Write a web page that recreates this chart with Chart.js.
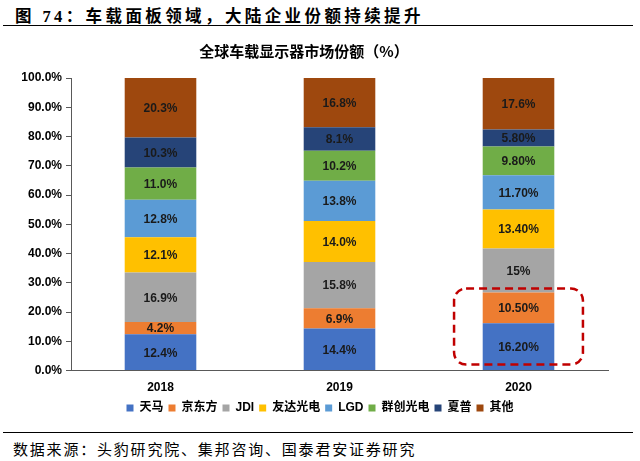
<!DOCTYPE html>
<html>
<head>
<meta charset="utf-8">
<script src="https://cdn.jsdelivr.net/npm/chart.js@4"></script>
<style>
  body { margin: 0; background: #fff; }
  #wrap { position: relative; width: 640px; height: 461px; overflow: hidden; }
  #head { position: absolute; left: 15px; top: 3px; font: bold 16.5px "Liberation Serif", "Noto Sans CJK SC", serif; letter-spacing: 3.4px; color: #000; white-space: nowrap; }
  .rule { position: absolute; left: 3px; width: 630px; height: 0; border-top: 1.5px solid #000; }
  #src { position: absolute; left: 13px; top: 438px; font: 15px "Noto Sans CJK SC", sans-serif; letter-spacing: 1.8px; color: #000; white-space: nowrap; }
  #chart { position: absolute; left: 0; top: 30px; }
</style>
</head>
<body>
<div id="wrap">
  <div id="head">图 74：车载面板领域，大陆企业份额持续提升</div>
  <div class="rule" style="top:25px"></div>
  <canvas id="chart" width="640" height="400"></canvas>
  <div class="rule" style="top:432px"></div>
  <div id="src">数据来源：头豹研究院、集邦咨询、国泰君安证券研究</div>
</div>
<script>
const years = ['2018', '2019', '2020'];
const seriesNames = ['天马', '京东方', 'JDI', '友达光电', 'LGD', '群创光电', '夏普', '其他'];

// share values, %
const tianma = [12.4, 14.4, 16.2];
const boe = [4.2, 6.9, 10.5];
const jdi = [16.9, 15.8, 15];
const auo = [12.1, 14.0, 13.4];
const lgd = [12.8, 13.8, 11.7];
const innolux = [11.0, 10.2, 9.8];
const sharp = [10.3, 8.1, 5.8];
const others = [20.3, 16.8, 17.6];

// labels as printed on the bars
const tianmaLabels = ['12.4%', '14.4%', '16.20%'];
const boeLabels = ['4.2%', '6.9%', '10.50%'];
const jdiLabels = ['16.9%', '15.8%', '15%'];
const auoLabels = ['12.1%', '14.0%', '13.40%'];
const lgdLabels = ['12.8%', '13.8%', '11.70%'];
const innoluxLabels = ['11.0%', '10.2%', '9.80%'];
const sharpLabels = ['10.3%', '8.1%', '5.80%'];
const othersLabels = ['20.3%', '16.8%', '17.6%'];

const yTicks = [0, 10, 20, 30, 40, 50, 60, 70, 80, 90, 100];

const colors = ['#4472C4', '#ED7D31', '#A5A5A5', '#FFC000', '#5B9BD5', '#70AD47', '#264478', '#9E480E'];
const values = [tianma, boe, jdi, auo, lgd, innolux, sharp, others];
const labels = [tianmaLabels, boeLabels, jdiLabels, auoLabels, lgdLabels, innoluxLabels, sharpLabels, othersLabels];

// labels in the middle of each segment
const barLabels = {
  id: 'barLabels',
  afterDatasetsDraw(chart) {
    const ctx = chart.ctx;
    ctx.save();
    ctx.font = 'bold 12px "Liberation Sans", Arial, sans-serif';
    ctx.fillStyle = '#1a1a1a';
    ctx.textAlign = 'center';
    ctx.textBaseline = 'middle';
    chart.data.datasets.forEach((ds, i) => {
      chart.getDatasetMeta(i).data.forEach((bar, j) => {
        ctx.fillText(ds.valueLabels[j], bar.x, (bar.y + bar.base) / 2 + 1);
      });
    });
    ctx.restore();
  }
};

// red dashed frame round 天马 + 京东方 in 2020
const highlight = {
  id: 'highlight',
  afterDraw(chart) {
    const x = chart.scales.x;
    const y = chart.scales.y;
    const idx = 2;
    const cx = x.getPixelForValue(idx);
    const half = (x.width / years.length) * 0.36;
    const top = y.getPixelForValue(tianma[idx] + boe[idx]) - 4;
    const bottom = y.getPixelForValue(0) - 6;
    const ctx = chart.ctx;
    ctx.save();
    ctx.strokeStyle = '#C00000';
    ctx.lineWidth = 2.5;
    ctx.setLineDash([8, 5]);
    ctx.beginPath();
    ctx.roundRect(cx - half, top, half * 2, bottom - top, 12);
    ctx.stroke();
    ctx.restore();
  }
};

// centre the legend on the whole page, not on the padded box
const legendCentre = {
  id: 'legendCentre',
  afterLayout(chart) {
    chart.legend.left += 32;
  }
};

new Chart(document.getElementById('chart'), {
  type: 'bar',
  data: {
    labels: years,
    datasets: seriesNames.map((name, i) => ({
      label: name,
      data: values[i],
      valueLabels: labels[i],
      backgroundColor: colors[i],
      borderWidth: 0,
      categoryPercentage: 1,
      barPercentage: 0.4
    }))
  },
  options: {
    responsive: false,
    animation: false,
    layout: { padding: { left: 0, right: 32, top: 0, bottom: 6 } },
    plugins: {
      title: {
        display: true,
        text: '全球车载显示器市场份额（%）',
        color: '#000',
        font: { family: '"Noto Sans CJK SC", sans-serif', size: 15, weight: 'bold' },
        padding: { top: 12, bottom: 18 }
      },
      legend: {
        position: 'bottom',
        labels: {
          color: '#000',
          boxWidth: 7,
          boxHeight: 7,
          padding: 5,
          font: { family: '"Liberation Sans", "Noto Sans CJK SC", sans-serif', size: 12, weight: 'bold', lineHeight: 1 }
        }
      },
      tooltip: { enabled: false }
    },
    scales: {
      x: {
        stacked: true,
        grid: { display: false },
        border: { color: '#595959', width: 1 },
        ticks: {
          color: '#000',
          padding: 2,
          font: { family: '"Liberation Sans", Arial, sans-serif', size: 12, weight: 'bold' }
        }
      },
      y: {
        stacked: true,
        min: 0,
        max: 100,
        afterFit(scale) { scale.width = 71; },
        afterBuildTicks(scale) { scale.ticks = yTicks.map(v => ({ value: v })); },
        grid: { drawOnChartArea: false, tickLength: 5, color: '#595959' },
        border: { color: '#595959', width: 1 },
        ticks: {
          color: '#000',
          padding: 4,
          callback: v => v.toFixed(1) + '%',
          font: { family: '"Liberation Sans", Arial, sans-serif', size: 12, weight: 'bold' }
        }
      }
    }
  },
  plugins: [barLabels, highlight, legendCentre]
});
</script>
</body>
</html>
